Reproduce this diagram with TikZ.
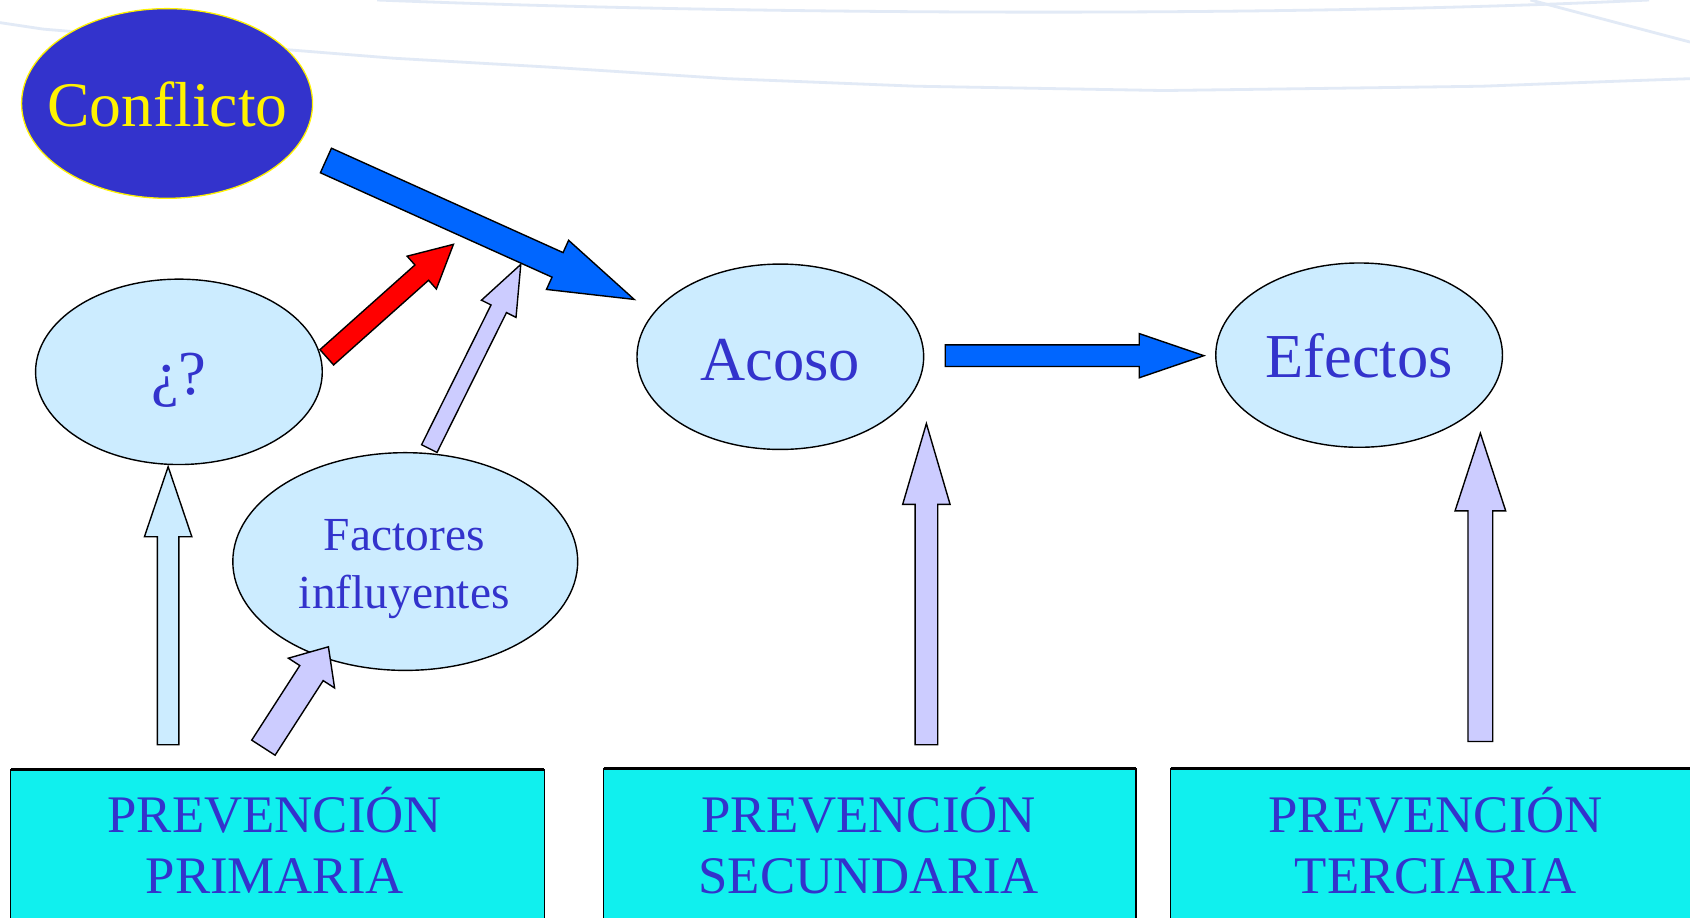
\documentclass[tikz,border=0pt]{standalone}
\usepackage{fontspec}
\setmainfont{Liberation Serif}
\usetikzlibrary{calc,shapes.geometric}
\definecolor{txtblue}{HTML}{3333CC}
\definecolor{conffill}{HTML}{3333CC}
\definecolor{bubfill}{HTML}{CCECFF}
\definecolor{boxfill}{HTML}{10F0EE}
\definecolor{arrblue}{HTML}{0066FF}
\definecolor{arrred}{HTML}{FF0000}
\definecolor{arrlav}{HTML}{CCCCFF}
\definecolor{bgline}{HTML}{E2EAF6}
\tikzset{
  bubble/.style={ellipse, draw=black, line width=1.3pt, fill=bubfill, inner sep=0pt},
  boxedge/.style={draw=black, line width=1.3pt},
  bodytext/.style={anchor=base, text=txtblue, inner sep=0pt},
  blockarr/.style={draw=black, line width=1.3pt, line join=miter},
  swoosh/.style={draw=bgline, line width=2.6pt}
}
\newcommand\blockarrow[6]{%
  \coordinate (hbtmp) at ($(#3)!#6!(#2)$);
  \draw[blockarr,#1] ($(#2)!#4!90:(#3)$) -- ($(hbtmp)!#4!-90:(#2)$) -- ($(hbtmp)!#5!-90:(#2)$) -- (#3)
     -- ($(hbtmp)!#5!90:(#2)$) -- ($(hbtmp)!#4!90:(#2)$) -- ($(#2)!#4!-90:(#3)$) -- cycle;
}
\begin{document}
\begin{tikzpicture}[x=1pt,y=-1pt]
\useasboundingbox (0,0) rectangle (1568,851);
\fill[white] (0,0) rectangle (1568,851);
% background swooshes
\draw[swoosh] (0,21) -- (40,27) -- (265,46) -- (365,54) -- (505,62) -- (675,73) -- (850,80) -- (1080,84) -- (1230,82) -- (1375,80) -- (1510,75) -- (1568,73);
\draw[swoosh] (350,0) .. controls (700,14) and (1200,16) .. (1530,0);
\draw[swoosh] (1420,0) -- (1568,39);

% ellipses
\node[ellipse, draw=yellow, line width=1.2pt, fill=conffill, inner sep=0pt, minimum width=270pt, minimum height=176pt] (conflicto) at (155,96) {};
\node[bubble, minimum width=266pt, minimum height=172pt] (pregunta) at (166,345) {};
\node[bubble, minimum width=320pt, minimum height=202pt] (factores) at (376,521) {};
\node[bubble, minimum width=266pt, minimum height=172pt] (acoso) at (724,331) {};
\node[bubble, minimum width=266pt, minimum height=171pt] (efectos) at (1261,329.5) {};

% texts
\node[anchor=base, text=yellow, inner sep=0pt, font=\fontsize{59}{60}\selectfont] (conflictot) at (155.4,117.5) {Conflicto};
\node[bodytext, font=\fontsize{58}{60}\selectfont] (preguntat) at (166,366) {¿?};
\node[bodytext, font=\fontsize{44}{46}\selectfont] (factorest1) at (375,510.4) {Factores};
\node[bodytext, font=\fontsize{44}{46}\selectfont] (factorest2) at (375,564.5) {influyentes};
\node[bodytext, font=\fontsize{58}{60}\selectfont] (acosot) at (724,352.6) {Acoso};
\node[bodytext, font=\fontsize{58}{60}\selectfont] (efectost) at (1261,350.5) {Efectos};

% boxes
\fill[boxfill] (10,714) rectangle (505,860);
\draw[boxedge] (10,860) -- (10,714) -- (505,714) -- (505,860);
\draw[line width=3pt] (10,714) -- (505,714);
\fill[boxfill] (560,713) rectangle (1054,860);
\draw[boxedge] (560,860) -- (560,713) -- (1054,713) -- (1054,860);
\draw[line width=3pt] (560,713) -- (1054,713);
\fill[boxfill] (1086,713) rectangle (1580,860);
\draw[boxedge] (1086,860) -- (1086,713) -- (1580,713);
\draw[line width=3pt] (1086,713) -- (1580,713);
\node[bodytext, font=\fontsize{49}{50}\selectfont] (p1a) at (255,772) {PREVENCIÓN};
\node[bodytext, font=\fontsize{49}{50}\selectfont] (p1b) at (255,829) {PRIMARIA};
\node[bodytext, font=\fontsize{49}{50}\selectfont] (p2a) at (806,772) {PREVENCIÓN};
\node[bodytext, font=\fontsize{49}{50}\selectfont] (p2b) at (806,829) {SECUNDARIA};
\node[bodytext, font=\fontsize{49}{50}\selectfont] (p3a) at (1332,772) {PREVENCIÓN};
\node[bodytext, font=\fontsize{49}{50}\selectfont] (p3b) at (1332,829) {TERCIARIA};

% arrow end points
\coordinate (a1t) at (302.4,148.9); \coordinate (a1h) at (588.4,277.8);
\coordinate (a2t) at (303.2,331.5); \coordinate (a2h) at (420.7,226.7);
\coordinate (a3t) at (398.3,416.2); \coordinate (a3h) at (483.2,245.3);
\coordinate (a4t) at (244.4,693.7); \coordinate (a4h) at (304.7,600.1);
\coordinate (a5t) at (156,691);     \coordinate (a5h) at (156,433);
\coordinate (a6t) at (859.5,691);   \coordinate (a6h) at (859.5,393);
\coordinate (a7t) at (1373.5,688);  \coordinate (a7h) at (1373.5,402);
\coordinate (a8t) at (877,330);     \coordinate (a8h) at (1117,330);

% arrows
\blockarrow{fill=arrred}{a2t}{a2h}{9.5pt}{20.4pt}{39.4pt}
\blockarrow{fill=arrlav}{a3t}{a3h}{8pt}{17.9pt}{46pt}
\blockarrow{fill=arrblue}{a1t}{a1h}{12.5pt}{25pt}{78pt}
\blockarrow{fill=arrlav}{a4t}{a4h}{12.9pt}{25.5pt}{29pt}
\blockarrow{fill=bubfill}{a5t}{a5h}{10pt}{22pt}{65pt}
\blockarrow{fill=arrlav}{a6t}{a6h}{10.5pt}{22pt}{75pt}
\blockarrow{fill=arrlav}{a7t}{a7h}{11.5pt}{23.5pt}{72pt}
\blockarrow{fill=arrblue}{a8t}{a8h}{10pt}{20.5pt}{60pt}
\end{tikzpicture}
\end{document}
